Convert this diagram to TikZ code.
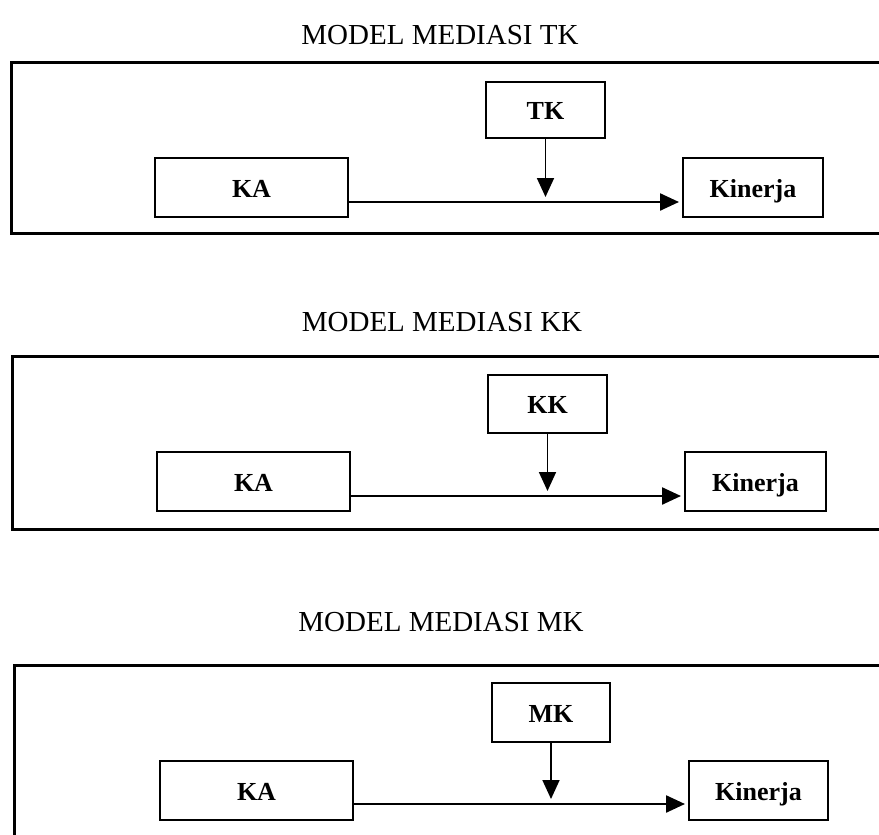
\documentclass[tikz,border=0pt]{standalone}
\usepackage{fontspec}
\setmainfont{Liberation Serif}
\usetikzlibrary{arrows.meta,positioning,calc}

\begin{document}
\begin{tikzpicture}[x=1pt,y=-1pt,line cap=butt,line join=miter,
  Box/.style={draw,line width=2pt,inner sep=0pt,minimum height=59pt,text height=21pt,text depth=2pt,font=\fontsize{26}{28}\selectfont\bfseries},
  Title/.style={font=\fontsize{29}{31}\selectfont},
  Arr/.style={line width=2.4pt,-{Triangle[length=19pt,width=17pt]}},
  Frame/.style={line width=3pt}]
  \useasboundingbox (0,0) rectangle (879,835);
  % model TK
  \node[Title] (T1) at (440,35) {MODEL MEDIASI TK};
  \draw[Frame] (879,62) -- (11,62) -- (11,233) -- (879,233);
  \node[Box,minimum width=193pt] (KA1) at (251.5,187.5) {KA};
  \node[Box,minimum width=119pt,minimum height=56pt] (TK) at (545.5,110) {TK};
  \node[Box,minimum width=140pt] (Kin1) at (753,187.5) {Kinerja};
  \draw[Arr,shorten >=3pt] ([yshift=-14.5pt]KA1.east) coordinate (L1) -- (L1 -| Kin1.west);
  \draw[Arr,line width=1.8pt] (TK.south) -- ([yshift=5pt]L1 -| TK.south);
  % model KK
  \node[Title] (T2) at (442,322) {MODEL MEDIASI KK};
  \draw[Frame] (879,356) -- (12,356) -- (12,529) -- (879,529);
  \node[Box,minimum width=193pt] (KA2) at (253.5,481.5) {KA};
  \node[Box,minimum width=119pt,minimum height=58pt] (KK) at (547.5,404) {KK};
  \node[Box,minimum width=141pt] (Kin2) at (755.5,481.5) {Kinerja};
  \draw[Arr,shorten >=3pt] ([yshift=-14.5pt]KA2.east) coordinate (L2) -- (L2 -| Kin2.west);
  \draw[Arr,line width=1.8pt] (KK.south) -- ([yshift=5pt]L2 -| KK.south);
  % model MK
  \node[Title] (T3) at (441,622) {MODEL MEDIASI MK};
  \draw[Frame] (879,665) -- (14,665) -- (14,835);
  \node[Box,minimum width=193pt] (KA3) at (256.5,790.5) {KA};
  \node[Box,minimum width=118pt] (MK) at (551,712.5) {MK};
  \node[Box,minimum width=139pt] (Kin3) at (758.5,790.5) {Kinerja};
  \draw[Arr,shorten >=3pt] ([yshift=-13.5pt]KA3.east) coordinate (L3) -- (L3 -| Kin3.west);
  \draw[Arr,line width=1.8pt] (MK.south) -- ([yshift=5pt]L3 -| MK.south);
\end{tikzpicture}
\end{document}
